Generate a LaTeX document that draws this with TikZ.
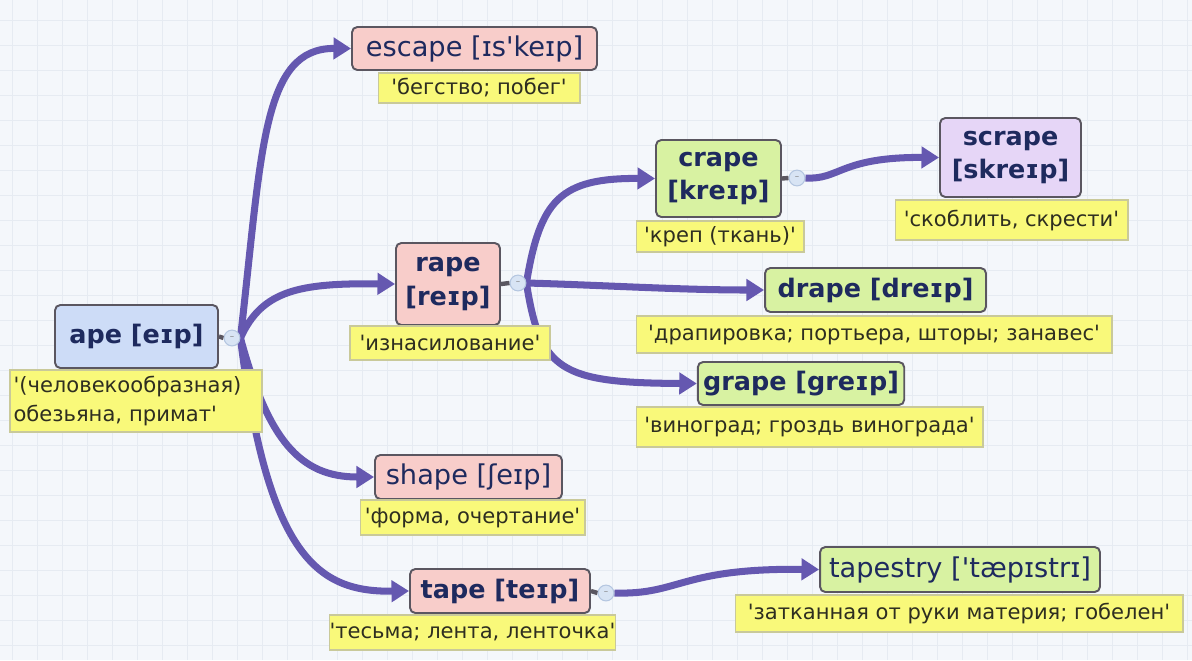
\documentclass[tikz,border=0pt]{standalone}
\usepackage{fontspec}
\setmainfont{DejaVu Sans}
\usetikzlibrary{arrows.meta,backgrounds}

\definecolor{paper}{HTML}{F4F7FB}
\definecolor{gridcol}{HTML}{E6EBF2}
\definecolor{wire}{HTML}{6558B0}
\definecolor{boxline}{HTML}{5A5660}
\definecolor{ink}{HTML}{1E2A5E}
\definecolor{bluefill}{HTML}{CDDCF7}
\definecolor{pinkfill}{HTML}{F8CDCA}
\definecolor{greenfill}{HTML}{D8F2A2}
\definecolor{lilacfill}{HTML}{E6D6F7}
\definecolor{notefill}{HTML}{F9F97A}
\definecolor{noteline}{HTML}{C9C99A}
\definecolor{notetext}{HTML}{2E2E20}
\definecolor{foldfill}{HTML}{D8E4F4}
\definecolor{foldline}{HTML}{B4C6E0}

\newcommand\qs{\textquotesingle}

\tikzset{
    word/.style={draw=boxline, line width=1.1pt, rounded corners=3pt, text=ink,
        inner ysep=0pt, inner xsep=3pt, align=center, font=\bfseries\fontsize{14.5}{19}\selectfont},
    thin word/.style={word, font=\fontsize{15.5}{19}\selectfont},
    note/.style={fill=notefill, draw=noteline, line width=0.6pt, text=notetext,
        inner sep=0pt, font=\fontsize{12}{17}\selectfont},
    fold/.style={circle, fill=foldfill, draw=foldline, line width=0.6pt,
        minimum size=9pt, inner sep=0pt, text=gray, font=\fontsize{5}{5}\selectfont},
    link/.style={wire, line width=4pt, -{Triangle[length=10pt,width=12pt]}},
    stub/.style={boxline, line width=2.5pt},
}

\begin{document}
\begin{tikzpicture}[x=0.02cm, y=-0.02cm]
    \useasboundingbox (0,0) rectangle (1192,660);
    \begin{scope}[on background layer]
        \fill[paper] (0,0) rectangle (1192,660);
        \foreach \gx in {12,37,...,1192}
            \draw[gridcol, line width=0.5pt] (\gx,0) -- (\gx,660);
        \foreach \gy in {20,45,...,660}
            \draw[gridcol, line width=0.5pt] (0,\gy) -- (1192,\gy);
    \end{scope}

    % words
    \node[word, fill=bluefill, minimum width=3.26cm, minimum height=1.26cm] (ape) at (136.5,336.5) {ape [eɪp]};
    \node[thin word, fill=pinkfill, minimum width=4.9cm, minimum height=0.86cm] (escape) at (474.5,48.5) {escape [ɪs\qs keɪp]};
    \node[word, fill=pinkfill, minimum width=2.08cm, minimum height=1.64cm] (rape) at (448,284) {rape\\{}[reɪp]};
    \node[word, fill=greenfill, minimum width=2.5cm, minimum height=1.54cm] (crape) at (718.5,178.5) {crape\\{}[kreɪp]};
    \node[word, fill=lilacfill, minimum width=2.82cm, minimum height=1.58cm] (scrape) at (1010.5,157.5) {scrape\\{}[skreɪp]};
    \node[word, fill=greenfill, minimum width=4.42cm, minimum height=0.88cm] (drape) at (875.5,290) {drape [dreɪp]};
    \node[word, fill=greenfill, minimum width=3.96cm, minimum height=0.86cm] (grape) at (801,383.5) {grape [greɪp]};
    \node[thin word, fill=pinkfill, minimum width=3.74cm, minimum height=0.88cm] (shape) at (468.5,477) {shape [ʃeɪp]};
    \node[word, fill=pinkfill, minimum width=3.6cm, minimum height=0.88cm] (tape) at (500,591) {tape [teɪp]};
    \node[thin word, fill=greenfill, minimum width=5.6cm, minimum height=0.9cm] (tapestry) at (960,569.5) {tapestry [\qs tæpɪstrɪ]};

    % collapse buttons
    \node[fold] (fa) at (232,338) {--};
    \node[fold] (fr) at (518,283) {--};
    \node[fold] (fc) at (797,178) {--};
    \node[fold] (ft) at (606,593) {--};

    % translations
    \node[note, minimum height=1.24cm, text width=4.9cm, inner xsep=0.07cm, align=left] (ape n) at (136,401)
        {\qs(человекообразная)\\обезьяна, примат\qs};
    \node[note, minimum width=4.04cm, minimum height=0.6cm] (escape n) at (479,88) {\qs бегство; побег\qs};
    \node[note, minimum width=4.0cm, minimum height=0.68cm] (rape n) at (450,343) {\qs изнасилование\qs};
    \node[note, minimum width=3.36cm, minimum height=0.62cm] (crape n) at (720,236.5) {\qs креп (ткань)\qs};
    \node[note, minimum width=4.66cm, minimum height=0.8cm] (scrape n) at (1011.5,220) {\qs скоблить, скрести\qs};
    \node[note, minimum width=9.52cm, minimum height=0.74cm] (drape n) at (874,334.5) {\qs драпировка; портьера, шторы; занавес\qs};
    \node[note, minimum width=6.94cm, minimum height=0.8cm] (grape n) at (809.5,427) {\qs виноград; гроздь винограда\qs};
    \node[note, minimum width=4.5cm, minimum height=0.7cm] (shape n) at (472.5,517.5) {\qs форма, очертание\qs};
    \node[note, minimum width=5.02cm, minimum height=0.7cm] (tape n) at (472.5,632.5) {\qs тесьма; лента, ленточка\qs};
    \node[note, minimum width=8.96cm, minimum height=0.74cm] (tapestry n) at (959,613.5) {\qs затканная от руки материя; гобелен\qs};

    \begin{scope}[on background layer]
        \foreach \src/\btn in {ape/fa,rape/fr,crape/fc,tape/ft}
            \draw[stub] (\src.east) -- (\btn.west);
        \draw[link] (fa.east) .. controls (262,150) and (262,48) .. (escape.west);
        \draw[link] (fa.east) .. controls (262,290) and (300,283) .. (rape.west);
        \draw[link] (fa.east) .. controls (268,440) and (300,477) .. (shape.west);
        \draw[link] (fa.east) .. controls (268,560) and (320,592) .. (tape.west);
        \draw[link] (fr.east) .. controls (540,200) and (560,178) .. (crape.west);
        \draw[link] (fr.east) .. controls (600,285) and (680,290) .. (drape.west);
        \draw[link] (fr.east) .. controls (540,370) and (560,383) .. (grape.west);
        \draw[link] (fc.east) .. controls (840,180) and (840,157) .. (scrape.west);
        \draw[link] (ft.east) .. controls (680,595) and (680,568) .. (tapestry.west);
    \end{scope}
\end{tikzpicture}
\end{document}
